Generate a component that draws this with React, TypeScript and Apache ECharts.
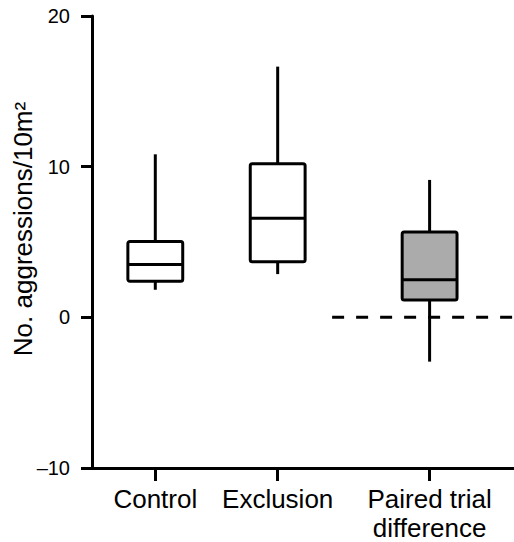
import React, { useEffect, useRef } from "react";
import * as echarts from "echarts";

// Data
const categories = ["Control", "Exclusion", "Paired trial\ndifference"];
const categoryX = [1.5, 4.4, 8.0];
const whiskerLow = [1.83, 2.87, -2.94];
const quartile1 = [2.39, 3.69, 1.15];
const medians = [3.51, 6.58, 2.49];
const quartile3 = [5.04, 10.2, 5.67];
const whiskerHigh = [10.82, 16.64, 9.12];
const yTicks = [-10, 0, 10, 20];
const zeroLine = [
  [5.69, 0],
  [10, 0],
];

const boxFills = ["#ffffff", "#ffffff", "#ababab"];
const FONT = "'Liberation Sans', Arial, Helvetica, sans-serif";

export default function App() {
  const ref = useRef<HTMLDivElement>(null);

  useEffect(() => {
    if (!ref.current) return;
    const chart = echarts.init(ref.current, null, { renderer: "svg" });

    const boxData = categories.map((_, i) => [
      categoryX[i],
      whiskerLow[i],
      quartile1[i],
      medians[i],
      quartile3[i],
      whiskerHigh[i],
    ]);

    const lineStyle = { stroke: "#000", lineWidth: 3, lineCap: "butt" as const };

    const option: any = {
      animation: false,
      backgroundColor: "#ffffff",
      grid: {
        left: 92,
        right: 0,
        top: 16,
        bottom: 74,
        containLabel: false,
        outerBoundsMode: "none",
      },
      xAxis: {
        type: "value",
        min: 0,
        max: 10,
        axisLine: { show: true, onZero: false, lineStyle: { color: "#000", width: 3 } },
        axisTick: {
          show: true,
          customValues: categoryX,
          length: 13,
          lineStyle: { color: "#000", width: 3 },
        },
        axisLabel: {
          show: true,
          customValues: categoryX,
          margin: 16,
          color: "#000",
          fontSize: 26,
          lineHeight: 29,
          fontFamily: FONT,
          formatter: (v: number) => {
            let best = 0;
            categoryX.forEach((c, i) => {
              if (Math.abs(c - v) < Math.abs(categoryX[best] - v)) best = i;
            });
            return categories[best];
          },
        },
        splitLine: { show: false },
      },
      yAxis: {
        type: "value",
        min: yTicks[0],
        max: yTicks[yTicks.length - 1],
        interval: 10,
        axisLine: { show: true, onZero: false, lineStyle: { color: "#000", width: 3 } },
        axisTick: { show: true, length: 11, lineStyle: { color: "#000", width: 3 } },
        axisLabel: {
          margin: 22,
          color: "#000",
          fontSize: 20,
          fontFamily: FONT,
          formatter: (v: number) => (v < 0 ? "\u2013" + Math.abs(v) : String(v)),
        },
        splitLine: { show: false },
      },
      graphic: [
        {
          type: "text",
          x: 22.5,
          y: 229,
          rotation: Math.PI / 2,
          style: {
            text: "No. aggressions/10m\u00B2",
            fontSize: 26,
            fontFamily: FONT,
            fill: "#000",
            textAlign: "center",
            textVerticalAlign: "middle",
          },
        },
      ],
      series: [
        {
          type: "line",
          data: zeroLine,
          symbol: "none",
          silent: true,
          z: 1,
          lineStyle: { color: "#000", width: 3, type: [12, 12] },
        },
        {
          type: "custom",
          z: 2,
          data: boxData,
          encode: { x: 0, y: [1, 2, 3, 4, 5] },
          renderItem: (params: any, api: any) => {
            const x = api.value(0);
            const idx = params.dataIndex;
            const pLow = api.coord([x, api.value(1)]);
            const pQ1 = api.coord([x, api.value(2)]);
            const pMed = api.coord([x, api.value(3)]);
            const pQ3 = api.coord([x, api.value(4)]);
            const pHigh = api.coord([x, api.value(5)]);
            const halfW = api.size([1.3, 0])[0] / 2;
            const cx = pMed[0];
            return {
              type: "group",
              children: [
                {
                  type: "line",
                  shape: { x1: cx, y1: pHigh[1], x2: cx, y2: pQ3[1] },
                  style: lineStyle,
                },
                {
                  type: "line",
                  shape: { x1: cx, y1: pQ1[1], x2: cx, y2: pLow[1] },
                  style: lineStyle,
                },
                {
                  type: "rect",
                  shape: {
                    x: cx - halfW,
                    y: pQ3[1],
                    width: halfW * 2,
                    height: pQ1[1] - pQ3[1],
                    r: 2,
                  },
                  style: { fill: boxFills[idx], stroke: "#000", lineWidth: 3 },
                },
                {
                  type: "line",
                  shape: { x1: cx - halfW, y1: pMed[1], x2: cx + halfW, y2: pMed[1] },
                  style: lineStyle,
                },
              ],
            };
          },
        },
      ],
    };

    chart.setOption(option);
    return () => chart.dispose();
  }, []);

  return (
    <div
      ref={ref}
      style={{ position: "absolute", left: 0, top: 0, width: 514, height: 542 }}
    />
  );
}
